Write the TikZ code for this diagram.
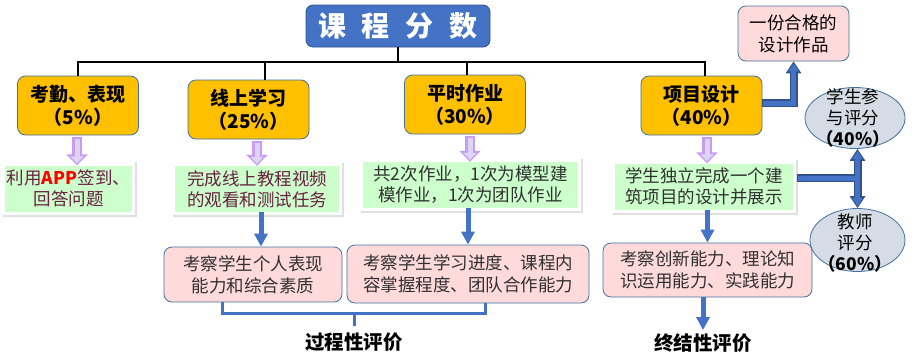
\documentclass[tikz,border=0pt]{standalone}
\usepackage{fontspec}
\setmainfont{Noto Sans CJK SC}
\usetikzlibrary{arrows.meta,calc,shapes.geometric}
\definecolor{titleblue}{HTML}{4472C4}
\definecolor{edgeblue}{HTML}{2F528F}
\definecolor{boxedge}{HTML}{41719C}
\definecolor{gold}{HTML}{FFC000}
\definecolor{mint}{HTML}{CCFFCC}
\definecolor{blush}{HTML}{FFDADA}
\definecolor{mist}{HTML}{D6DCE5}
\definecolor{plum}{HTML}{6B1F43}
\definecolor{ink}{HTML}{303030}
\definecolor{lilac}{HTML}{C99BF5}
\definecolor{lilacin}{HTML}{DCD6F4}

\begin{document}
\begin{tikzpicture}[x=1pt,y=-1pt,line join=miter,
  titlebox/.style={draw=edgeblue,fill=titleblue,line width=0.8pt,rounded corners=7pt,minimum width=184pt,minimum height=42pt,text=white,font=\fontsize{28}{32}\selectfont\bfseries},
  goldbox/.style={draw=boxedge,fill=gold,line width=0.8pt,rounded corners=8pt,minimum width=121pt,minimum height=59pt,align=center,font=\fontsize{19}{23}\selectfont\bfseries},
  mintbox/.style={fill=mint,inner sep=1pt,minimum height=46pt,align=center,font=\fontsize{17.5}{21}\selectfont},
  blushbox/.style={draw=boxedge,fill=blush,line width=0.8pt,rounded corners=8pt,inner sep=2pt,align=center,text=ink,font=\fontsize{17.5}{22}\selectfont},
  mistell/.style={ellipse,draw=boxedge,fill=mist,line width=0.8pt,inner sep=0pt},
  elltext/.style={align=center,inner sep=0pt,font=\fontsize{17.5}{21}\selectfont},
  caption/.style={font=\fontsize{19.5}{22}\selectfont\bfseries},
  busline/.style={draw=black,line width=2.6pt},
  shadowline/.style={draw=black!12,line width=2pt},
  lilacout/.style={draw=lilac,line width=10pt,shorten <=2pt,-{Triangle[width=21pt,length=11pt]}},
  lilacmid/.style={draw=lilacin,line width=5pt,shorten <=4pt,shorten >=2pt,-{Triangle[width=13pt,length=7pt]}},
  bluearrow/.style={draw=titleblue,line width=5pt,-{Triangle[width=13pt,length=13pt]}},
  bluebar/.style={draw=titleblue,line width=3pt},
  fatout/.style={draw=edgeblue,line width=8pt},
  fatin/.style={draw=titleblue,line width=5pt}]
\useasboundingbox (0,0) rectangle (912,359);

\node[titlebox] (title) at (398,26) {课\hspace{16pt}程\hspace{16pt}分\hspace{16pt}数};

\node[goldbox] (o1) at (78,105.5) {考勤、表现\\（5\%）};
\node[goldbox] (o2) at (248.5,109.5) {线上学习\\（25\%）};
\node[goldbox] (o3) at (465,104.5) {平时作业\\（30\%）};
\node[goldbox] (o4) at (701.5,105.5) {项目设计\\（40\%）};

\node[mintbox,text=plum,minimum width=127pt] (g1) at (68.5,188.5) {利用{\color{red}\textbf{APP}}签到、\\回答问题};
\node[mintbox,text=plum,minimum width=164pt] (g2) at (257,189) {完成线上教程视频\\的观看和测试任务};
\node[mintbox,text=ink,minimum width=215pt] (g3) at (470.5,185) {共2次作业，1次为模型建\\模作业，1次为团队作业};
\node[mintbox,text=ink,minimum width=178pt] (g4) at (704,186.5) {学生独立完成一个建\\筑项目的设计并展示};

\node[blushbox,minimum width=178pt,minimum height=55pt] (pA) at (253,274.5) {考察学生个人表现\\能力和综合素质};
\node[blushbox,minimum width=242pt,minimum height=58pt] (pB) at (468,274) {考察学生学习进度、课程内\\容掌握程度、团队合作能力};
\node[blushbox,minimum width=209pt,minimum height=54pt] (pC) at (707.5,270) {考察创新能力、理论知\\识运用能力、实践能力};

\node[blushbox,text=black,minimum width=111pt,minimum height=55pt] (t1) at (793.5,33.5) {一份合格的\\设计作品};

\node[mistell,minimum width=100pt,minimum height=61pt] (e1) at (855,118) {};
\node[elltext] (e1t) at (853,118) {学生参\\与评分\\\textbf{（40\%）}};
\node[mistell,minimum width=95pt,minimum height=63pt] (e2) at (857.5,240) {};
\node[elltext] (e2t) at (855,243) {教师\\评分\\\textbf{（60\%）}};

\node[caption] (lab1) at (354,342) {过程性评价};
\node[caption] (lab2) at (703,343) {终结性评价};

\coordinate (bus) at (0,62);
\draw[busline] (title.south) -- (title.south |- bus);
\draw[busline] (o1.north) -- (o1.north |- bus) -- ([xshift=3.5pt]o4.north |- bus) -- ([xshift=3.5pt]o4.north);
\draw[busline] ([xshift=16.5pt]o2.north) -- ([xshift=16.5pt]o2.north |- bus);
\draw[busline] ([xshift=2pt]o3.north) -- ([xshift=2pt]o3.north |- bus);

\foreach \n in {g1,g2,g3,g4}
  \draw[shadowline] ([xshift=-2pt,yshift=-4pt]\n.south west) -| ([xshift=4pt,yshift=3pt]\n.north east);

\foreach \a/\b/\d in {o1/g1/-1,o2/g2/8.5,o3/g3/5,o4/g4/5.5}{
  \draw[lilacout] ([xshift=\d pt]\a.south) -- ([xshift=\d pt]\a.south |- \b.north);
  \draw[lilacmid] ([xshift=\d pt]\a.south) -- ([xshift=\d pt]\a.south |- \b.north);
}

\draw[bluearrow] ([xshift=4pt]g2.south) -- ([xshift=4pt]g2.south |- pA.north);
\draw[bluearrow] (pB.north |- g3.south) -- (pB.north);
\draw[bluearrow] (pC.north |- g4.south) -- (pC.north);

\coordinate (brk) at ($(pA.south)+(0,11)$);
\draw[bluebar] ([xshift=-31pt]pA.south) -- ([xshift=-31pt]pA.south |- brk) -| ([xshift=17pt]pB.south);
\draw[bluebar] (lab1.north |- brk) -- ([yshift=-1pt]lab1.north |- brk) -- ([yshift=3pt]lab1.north);
\draw[bluearrow] (lab2.north |- pC.south) -- (lab2.north);

\coordinate (jn) at ($(g4.east)+(4,-8.5)$);
\draw[fatout,-{Triangle[width=15pt,length=12pt]}] ([yshift=2.5pt]o4.east) -| (t1.south);
\draw[fatout] (jn) -- (jn -| e2.north);
\draw[fatout,{Triangle[width=15pt,length=12pt]}-{Triangle[width=15pt,length=12pt]}] (e2.north |- e1.south) -- (e2.north);
\draw[fatin,shorten >=2pt,-{Triangle[width=10pt,length=8pt]}] ([yshift=2.5pt,xshift=1pt]o4.east) -| (t1.south);
\draw[fatin] ([xshift=1pt]jn) -- (jn -| e2.north);
\draw[fatin,shorten <=2pt,shorten >=2pt,{Triangle[width=10pt,length=8pt]}-{Triangle[width=10pt,length=8pt]}] (e2.north |- e1.south) -- (e2.north);
\end{tikzpicture}
\end{document}
